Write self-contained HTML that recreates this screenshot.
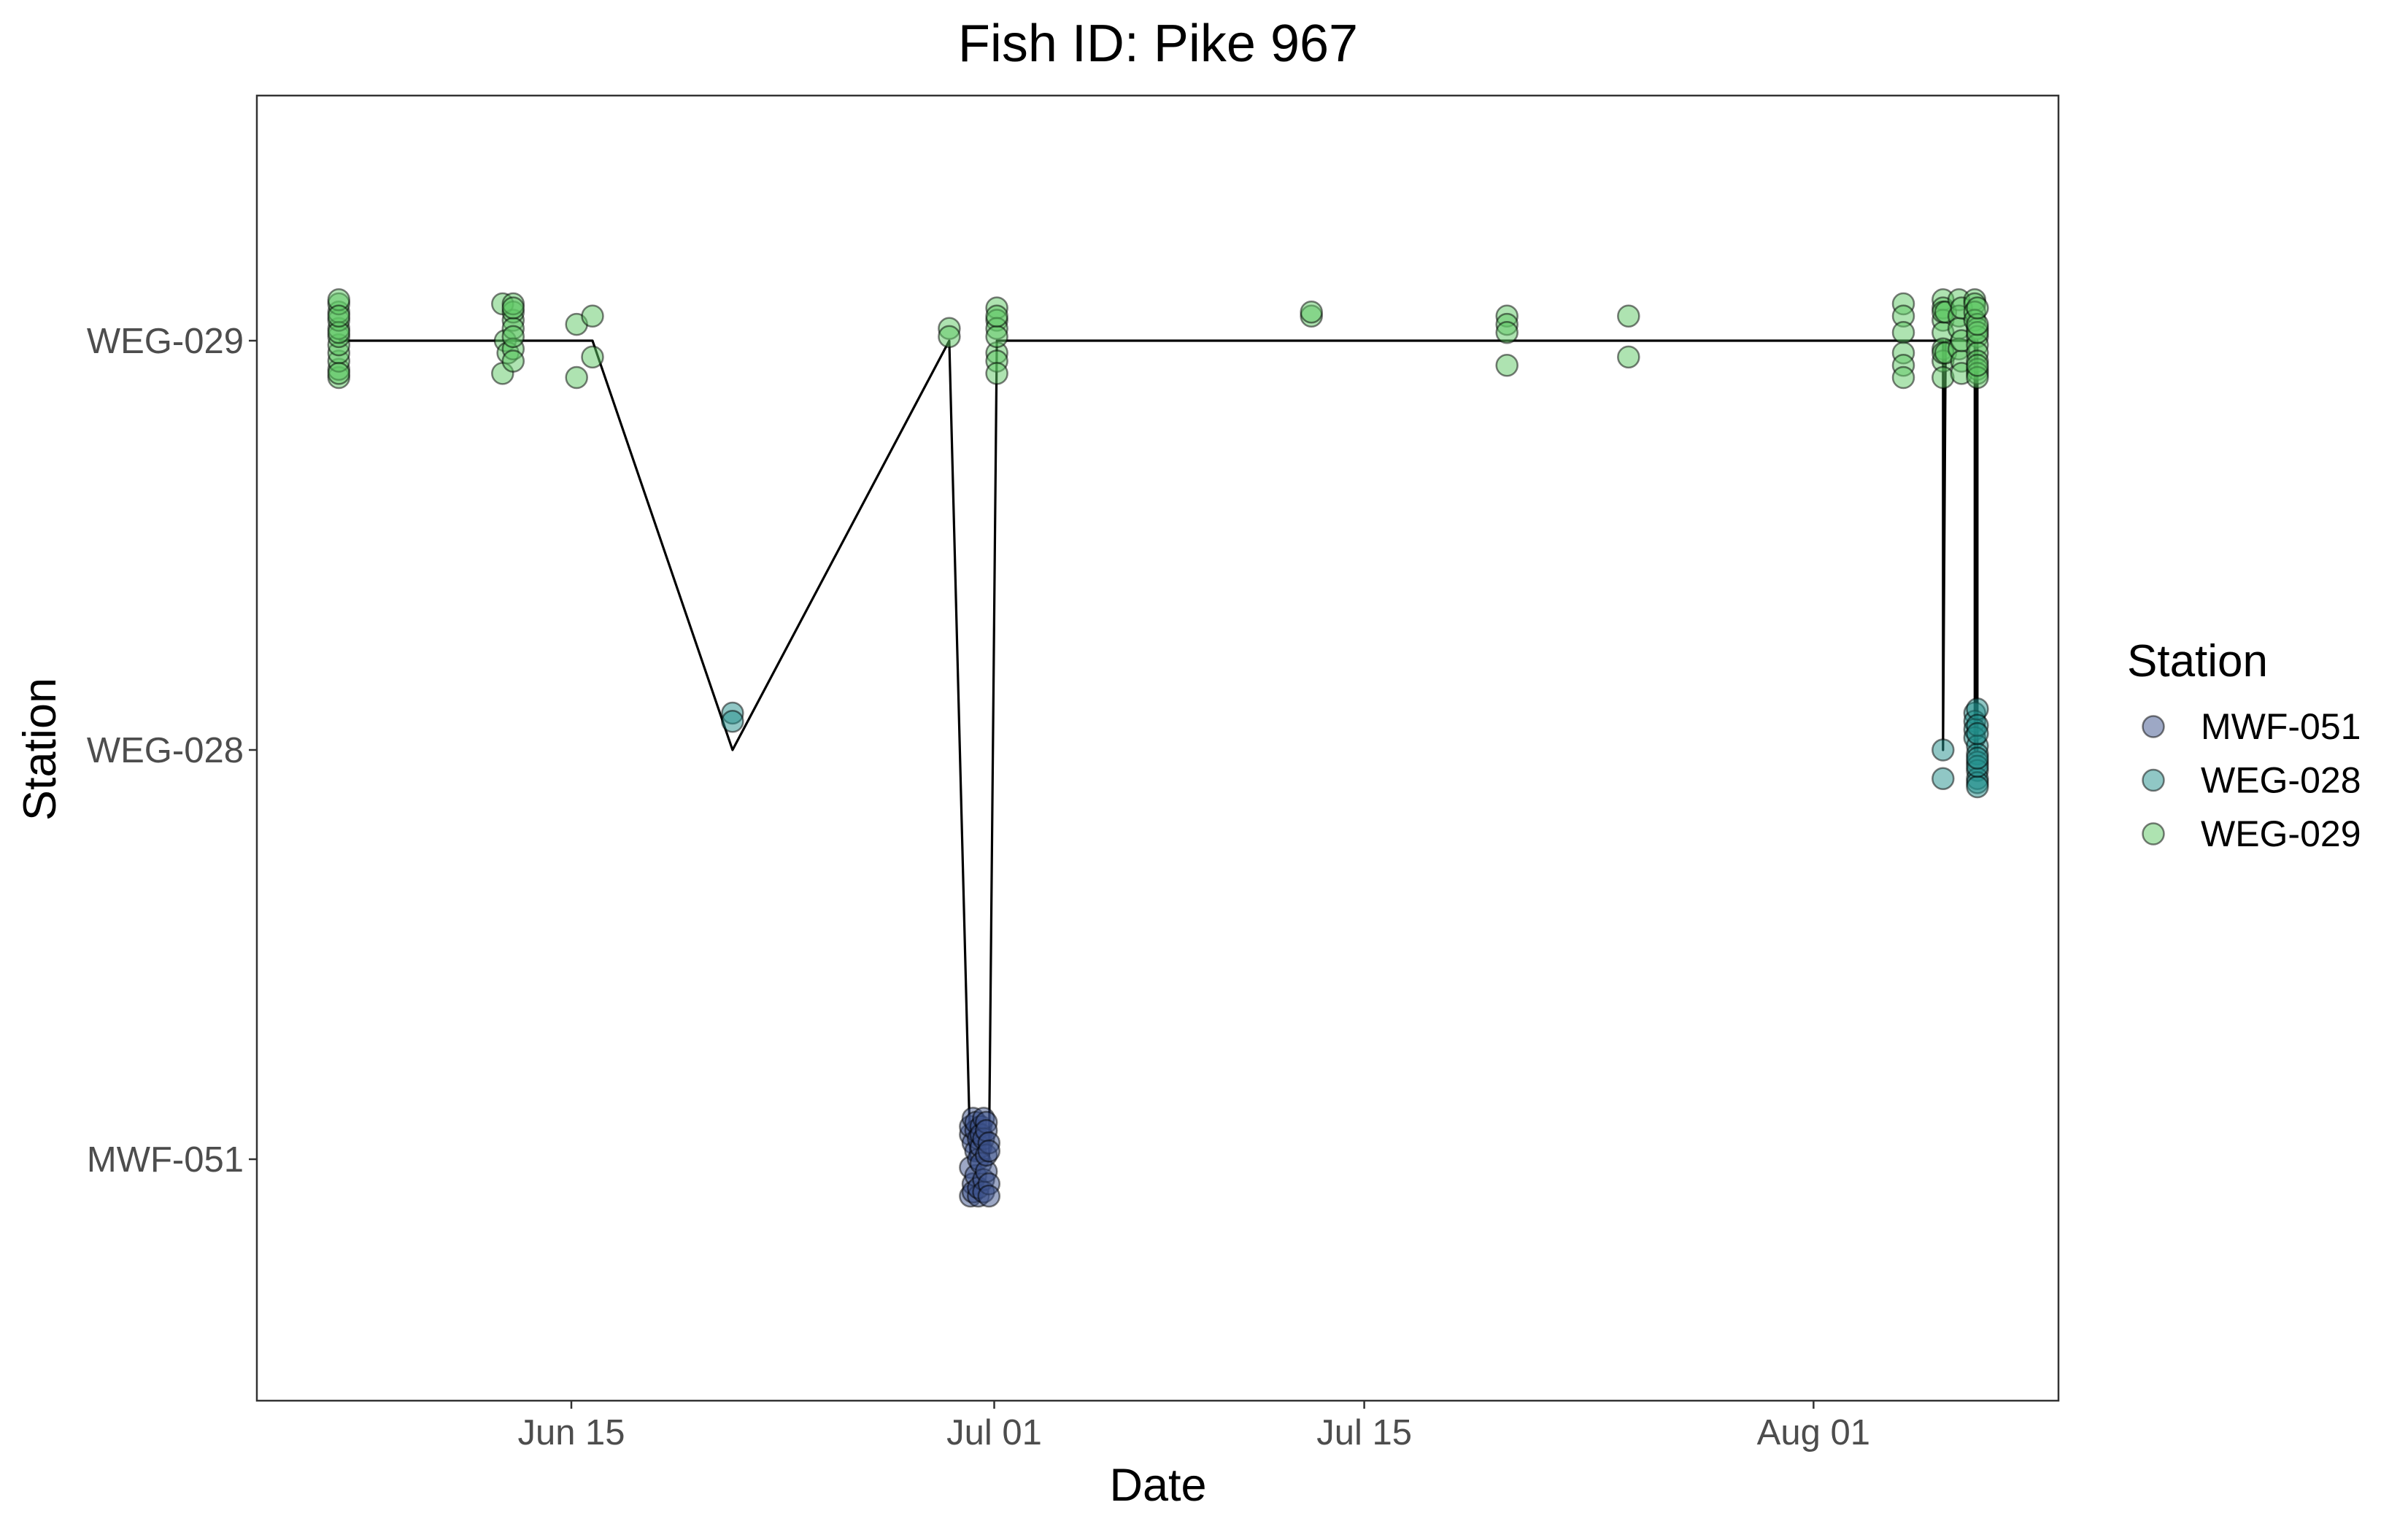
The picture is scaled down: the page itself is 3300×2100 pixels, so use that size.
<!DOCTYPE html>
<html><head><meta charset="utf-8"><style>
html,body{margin:0;padding:0;background:#fff;}
svg{display:block;font-family:"Liberation Sans",Arial,sans-serif;}
</style></head><body>
<svg id="chart" width="3300" height="2100" viewBox="0 0 3300 2100">
<rect x="0" y="0" width="3300" height="2100" fill="#fff"/>
<text x="1587" y="84" font-size="72" text-anchor="middle" fill="#000">Fish ID: Pike 967</text>
<g id="plot"></g>
<text x="1587" y="2057" font-size="63" text-anchor="middle" fill="#000">Date</text>
<text transform="translate(76,1027) rotate(-90)" font-size="63" text-anchor="middle" fill="#000">Station</text>
<g id="legend">
<text x="2915" y="927" font-size="62" fill="#000">Station</text>
</g>
</svg>
<script>
// Data: days after Jun 15, station index (0=MWF-051,1=WEG-028,2=WEG-029), jitter in station units
const stations = ["MWF-051","WEG-028","WEG-029"];
const xTickLabels = ["Jun 15","Jul 01","Jul 15","Aug 01"];
const xTickDays = [0,16,30,47];
const detDays = [
-8.8,-8.8,-8.8,-8.8,-8.8,-8.8,-8.8,-8.8,-8.8,-8.8,-8.8,-8.8,-8.8,-8.8,
-2.6,-2.6,-2.5,-2.4,-2.2,-2.2,-2.2,-2.2,-2.2,-2.2,-2.2,-2.2,
0.2,0.2,0.8,0.8,
6.1,6.1,
14.3,14.3,
15.1,15.1,15.1,15.1,15.2,15.2,15.2,15.2,15.3,15.3,15.3,15.3,15.4,15.4,15.4,15.4,15.5,15.5,15.5,15.5,15.6,15.6,15.6,15.6,15.7,15.7,15.7,15.7,15.8,15.8,15.8,15.8,
16.1,16.1,16.1,16.1,16.1,16.1,16.1,16.1,
28,28,
35.4,35.4,35.4,35.4,
40,40,
50.4,50.4,50.4,50.4,50.4,50.4,
51.9,51.9,51.9,51.9,51.9,51.9,51.9,51.9,51.9,51.9,51.9,52,52,
52.5,52.5,52.5,52.5,52.6,52.6,52.6,52.6,
53.1,53.1,53.1,53.1,53.1,53.1,53.1,53.1,53.2,53.2,53.2,53.2,53.2,53.2,53.2,53.2,53.2,53.2,53.2,53.2,53.2,53.2,53.2,53.2,53.2,53.2,53.2,53.2,53.2,53.2,53.2,53.2
];
const detStation = [
2,2,2,2,2,2,2,2,2,2,2,2,2,2,
2,2,2,2,2,2,2,2,2,2,2,2,
2,2,2,2,
1,1,
2,2,
0,0,0,0,0,0,0,0,0,0,0,0,0,0,0,0,0,0,0,0,0,0,0,0,0,0,0,0,0,0,0,0,
2,2,2,2,2,2,2,2,
2,2,
2,2,2,2,
2,2,
2,2,2,2,2,2,
2,2,2,2,2,2,2,2,2,1,1,2,2,
2,2,2,2,2,2,2,2,
2,1,2,1,2,1,2,1,2,1,2,1,2,1,2,1,2,1,2,1,2,1,2,1,2,1,2,1,2,1,2,1
];
const detJitter = [
-0.09,-0.07,-0.05,-0.03,-0.01,0.01,0.03,0.05,0.07,0.09,0.1,-0.08,0.02,0.06,
0.09,-0.08,0,-0.03,0.05,0.07,0.09,0.03,-0.02,-0.05,0.01,0.08,
0.04,-0.09,0.06,-0.04,
0.09,0.07,
0.03,0.01,
-0.09,0.06,-0.02,0.08,0.1,-0.06,0.04,-0.08,0.02,0.07,-0.04,0.09,0,0.05,-0.09,-0.07,0.03,0.08,-0.01,0.06,
0.1,-0.05,0.05,-0.08,0.09,-0.03,0.07,0.01,-0.06,0.04,-0.09,0.02,
0.08,0.05,0.03,-0.03,-0.05,-0.08,0.01,0.06,
0.06,0.07,
0.06,0.04,0.02,-0.06,
0.06,-0.04,
0.09,0.06,0.02,-0.03,-0.06,-0.09,
0.1,0.08,0.05,0.02,-0.02,-0.05,-0.09,0.07,-0.03,0,-0.07,0.07,-0.03,
0.1,0.06,0.03,-0.02,-0.05,-0.08,0.08,0,
0.1,0.09,0.09,0.07,0.07,0.05,0.05,0.03,0.03,0.01,0.01,-0.01,-0.01,-0.03,-0.03,-0.05,-0.05,-0.07,-0.07,-0.08,-0.08,-0.09,-0.09,0.1,0.02,0.06,0.04,-0.04,0.08,0.04,-0.06,-0.02
];
const fills = ["#3b528b","#21908c","#5dc863"];

const NS="http://www.w3.org/2000/svg";
const L=352,R=2821,T=131,B=1920;
const x0=783, pxPerDay=36.22;
const xs = d => x0 + d*pxPerDay;
const ys = s => 1589 - s*561;
function mk(tag,attrs,parent){const e=document.createElementNS(NS,tag);for(const k in attrs)e.setAttribute(k,attrs[k]);parent.appendChild(e);return e;}
const plot=document.getElementById('plot');
const bg=mk('rect',{x:L,y:T,width:R-L,height:B-T,fill:'#fff',stroke:'none'},plot);



let order=detDays.map((d,i)=>i).sort((a,b)=>detDays[a]-detDays[b]);
let dstr=order.map((i,k)=>(k?'L':'M')+xs(detDays[i]).toFixed(1)+','+ys(detStation[i]).toFixed(1)).join(' ');
const line=mk('path',{d:dstr,fill:'none',stroke:'#000','stroke-width':3.2,'stroke-linejoin':'round'},plot);



for(let i=0;i<detDays.length;i++){
  const c=mk('circle',{cx:xs(detDays[i]).toFixed(1),cy:ys(detStation[i]+detJitter[i]).toFixed(1),r:14.5,fill:fills[detStation[i]],'fill-opacity':0.5,stroke:'#000','stroke-opacity':0.5,'stroke-width':2.5},plot);
  
  
}
const border=mk('rect',{x:L,y:T,width:R-L,height:B-T,fill:'none',stroke:'#333','stroke-width':2.5},plot);



stations.forEach((s,i)=>{
  const tk=mk('line',{x1:L-11,x2:L,y1:ys(i),y2:ys(i),stroke:'#333','stroke-width':2.5},plot);
  
  
  const t=mk('text',{x:L-18,y:ys(i)+17,'font-size':49,'text-anchor':'end',fill:'#4d4d4d'},plot);
  t.textContent=s;
  
  
});
xTickDays.forEach((d,i)=>{
  const tk=mk('line',{x1:xs(d),x2:xs(d),y1:B,y2:B+11,stroke:'#333','stroke-width':2.5},plot);
  
  
  const t=mk('text',{x:xs(d),y:B+60,'font-size':49,'text-anchor':'middle',fill:'#4d4d4d'},plot);
  t.textContent=xTickLabels[i];
  
  
});
const leg=document.getElementById('legend');
stations.forEach((s,i)=>{
  const y=996+i*73.5;
  const c=mk('circle',{cx:2951,cy:y,r:14.5,fill:fills[i],'fill-opacity':0.5,stroke:'#000','stroke-opacity':0.5,'stroke-width':2.5},leg);
  
  
  const t=mk('text',{x:3016,y:y+17,'font-size':50,fill:'#000'},leg);
  t.textContent=s;
  
  
});
</script>
</body></html>
